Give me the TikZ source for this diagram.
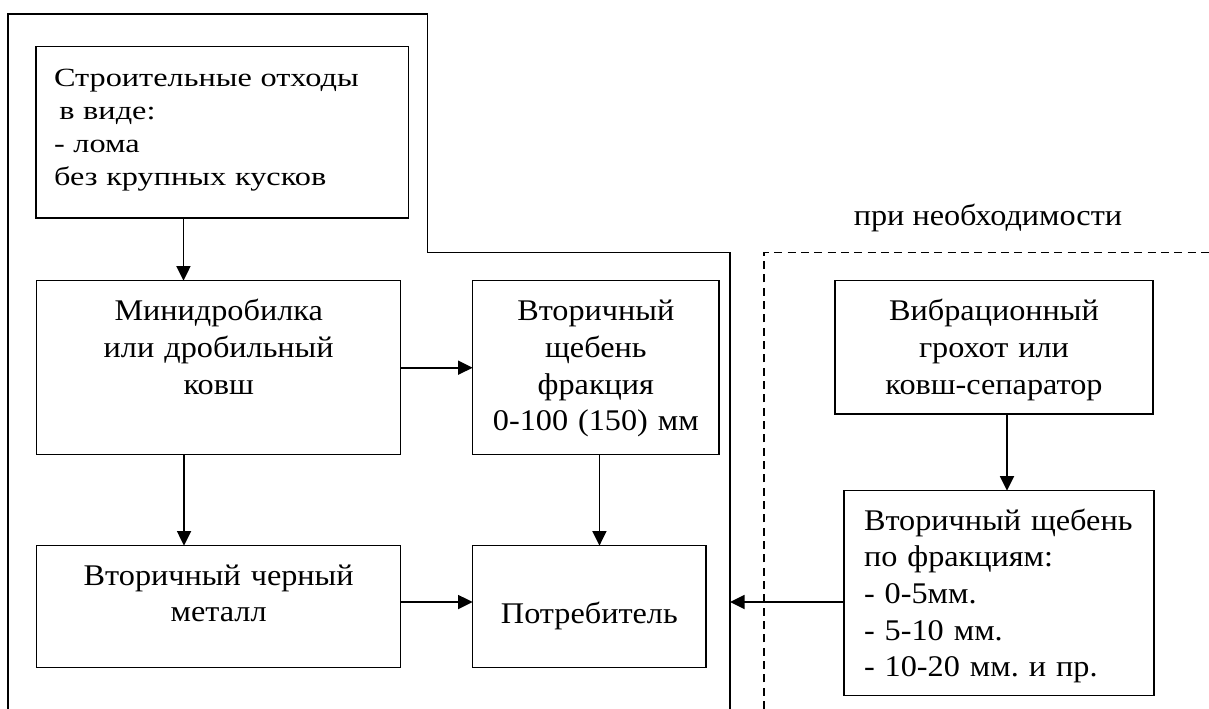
\documentclass[tikz,border=0pt]{standalone}
\usepackage{fontspec}
\setmainfont{Liberation Serif}[FakeStretch=1.075]
\newfontfamily\widefont{Liberation Serif}[FakeStretch=1.23]
\newcommand{\boxfont}{\fontsize{22.5}{27.5}\selectfont\frenchspacing}
\newcommand{\tightfont}{\widefont\fontsize{19.7}{24.75}\selectfont\frenchspacing}
\usepackage{tikz}
\usetikzlibrary{arrows.meta}

\begin{document}
\begin{tikzpicture}[
  x=0.75pt, y=-0.75pt,
  font=\boxfont,
  box/.style={draw, line width=0.9pt, inner xsep=0pt, inner ysep=0pt,
              outer sep=0pt, anchor=north west, align=center},
  lbox/.style={box, align=left},
  arr/.style={-{Triangle[length=11pt, width=10.5pt]}, line width=1.4pt},
  frame/.style={line width=0.8pt},
  dframe/.style={line width=0.8pt, dash pattern=on 6pt off 4pt}
]
\useasboundingbox (0,0) rectangle (1209,709);

% left part
\node[lbox, font=\tightfont, inner xsep=13.5pt, text width=252.4pt,
      text height=30.2pt, text depth=98.25pt] (waste) at (36,46.7)
  {Строительные отходы\\\hspace*{0.2em}в виде:\\- лома\\без крупных кусков};
\node[box, text width=273pt, text height=30.2pt, text depth=100.3pt]
  (crusher) at (36.7,280.7) {Минидробилка\\или дробильный\\ковш};
\node[box, text width=184.7pt, text height=30.2pt, text depth=100.3pt]
  (gravel) at (472.7,280.7) {Вторичный\\щебень\\фракция\\0-100 (150) мм};
\node[box, text width=273pt, text height=29.5pt, text depth=62pt]
  (metal) at (36.7,545.7) {Вторичный черный\\металл};
\node[box, text width=175pt, text height=58pt, text depth=33.5pt]
  (consumer) at (472.7,545.7) {Потребитель};

% right part
\node[anchor=base] (need) at (988,226) {при необходимости};
\node[box, text width=238.5pt, text height=30.2pt, text depth=69.75pt]
  (screen) at (835,280.7) {Вибрационный\\грохот или\\ковш-сепаратор};
\node[lbox, inner xsep=15pt, text width=202.5pt, text height=29.5pt,
      text depth=124.3pt] (fractions) at (844,490.7)
  {Вторичный щебень\\по фракциям:\\- 0-5мм.\\- 5-10 мм.\\- 10-20 мм. и пр.};

% frames
\coordinate (fr) at (730,252.7);
\draw[frame] (8,709) -- (8,14) -- (427.7,14) -- (427.7,252.7) -- (fr) -- (730,709);
\draw[dframe] (764,709) -- (764,252.7) -- (1209,252.7);

\draw[arr] ([xshift=110.6pt]waste.south west) -- ([xshift=110.6pt]waste.south west |- crusher.north);
\draw[arr] (crusher.east) -- (gravel.west);
\draw[arr] ([xshift=110.5pt]crusher.south west) -- ([xshift=110.5pt]crusher.south west |- metal.north);
\draw[arr] ([xshift=2.7pt]gravel.south) -- ([xshift=2.7pt]gravel.south |- consumer.north);
\draw[arr] ([yshift=3.5pt]metal.east) -- ([yshift=3.5pt]metal.east -| consumer.west);
\draw[arr] ([xshift=9.75pt]screen.south) -- ([xshift=9.75pt]screen.south |- fractions.north);
\draw[arr] ([yshift=-6.6pt]fractions.west) -- ([yshift=-6.6pt]fractions.west -| fr);
\end{tikzpicture}
\end{document}
